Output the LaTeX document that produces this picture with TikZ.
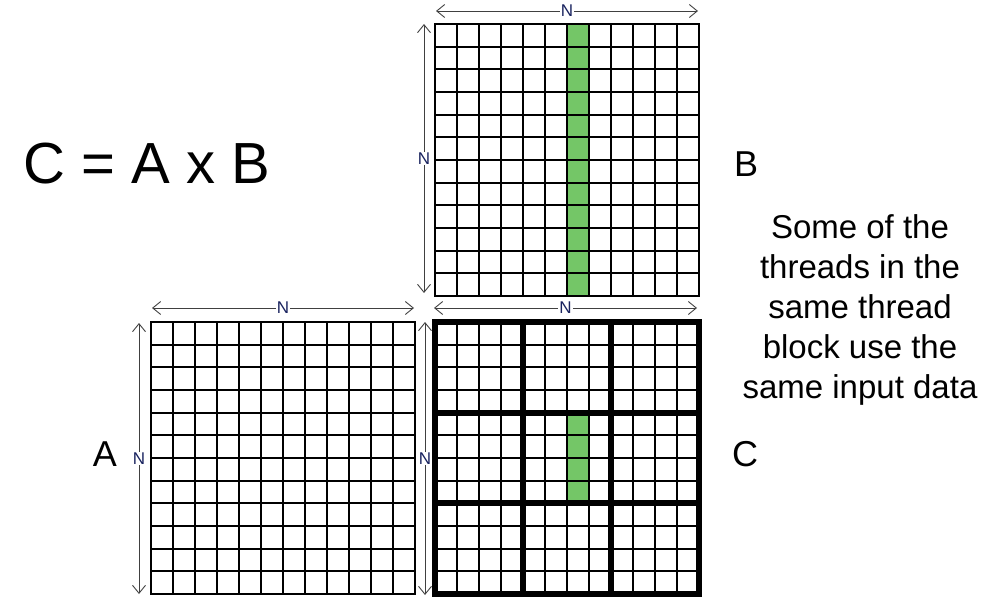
\documentclass[tikz,border=0pt]{standalone}
\usepackage{fontspec}
\setmainfont{Liberation Sans}
\usetikzlibrary{arrows.meta}
\definecolor{cellgreen}{RGB}{116,198,103}
\definecolor{dimgray}{RGB}{64,64,64}
\definecolor{dimblue}{RGB}{25,35,95}
\tikzset{
    gridline/.style={line width=2pt, line cap=rect},
    blockline/.style={line width=6pt, line cap=rect},
    dimarrow/.style={dimgray, line width=0.9pt,
        {Straight Barb[length=8pt,width=13pt]}-{Straight Barb[length=8pt,width=13pt]}},
    dimlabel/.style={fill=white, inner sep=1pt, text=dimblue,
        font=\fontsize{17}{17}\selectfont},
    biglabel/.style={anchor=base, font=\fontsize{36}{36}\selectfont}
}
\begin{document}
\begin{tikzpicture}[x=1pt, y=-1pt]
        \useasboundingbox (0,0) rectangle (994,599);
        % Highlighted cells
        \fill[cellgreen] (567,24) rectangle (589,296);
        \fill[cellgreen] (567,412.67) rectangle (589,503.33);
        % Grids for A, B and C
        \foreach \mx/\my in {151/322, 435/24, 435/322}
        {
            \foreach \i in {0,...,12}
            {
                \draw[gridline] (\mx+\i*22,\my) -- (\mx+\i*22,\my+272);
                \draw[gridline] (\mx,\my+\i*22.667) -- (\mx+264,\my+\i*22.667);
            }
        }
        % Thread blocks of C
        \foreach \i in {0,...,3}
        {
            \draw[blockline] (435+\i*88,322) -- (435+\i*88,594);
            \draw[blockline] (435,322+\i*90.667) -- (699,322+\i*90.667);
        }
        % Dimension arrows
        \coordinate (Btop-l) at (436,11);
        \coordinate (Btop-r) at (698,11);
        \coordinate (Bleft-t) at (424,24);
        \coordinate (Bleft-b) at (424,293);
        \coordinate (Ctop-l) at (434,308);
        \coordinate (Ctop-r) at (697,308);
        \coordinate (Atop-l) at (152,308);
        \coordinate (Atop-r) at (414,308);
        \coordinate (Aleft-t) at (139,323);
        \coordinate (Aleft-b) at (139,594);
        \coordinate (Cleft-t) at (425,322);
        \coordinate (Cleft-b) at (425,595);
        \draw[dimarrow] (Btop-l) -- node[dimlabel] {N} (Btop-r);
        \draw[dimarrow] (Bleft-t) -- node[dimlabel] {N} (Bleft-b);
        \draw[dimarrow] (Ctop-l) -- node[dimlabel] {N} (Ctop-r);
        \draw[dimarrow] (Atop-l) -- node[dimlabel] {N} (Atop-r);
        \draw[dimarrow] (Aleft-t) -- node[dimlabel] {N} (Aleft-b);
        \draw[dimarrow] (Cleft-t) -- node[dimlabel] {N} (Cleft-b);
        % Labels
        \node[anchor=base, font=\fontsize{58}{58}\selectfont] (product) at (147,183) {C = A x B};
        \node[biglabel] (labelB) at (746,177) {B};
        \node[biglabel] (labelC) at (745,466) {C};
        \node[biglabel] (labelA) at (105,466) {A};
        \node[align=center, font=\fontsize{33}{40}\selectfont] (remark) at (860,310)
            {Some of the\\threads in the\\same thread\\block use the\\same input data};
\end{tikzpicture}
\end{document}
